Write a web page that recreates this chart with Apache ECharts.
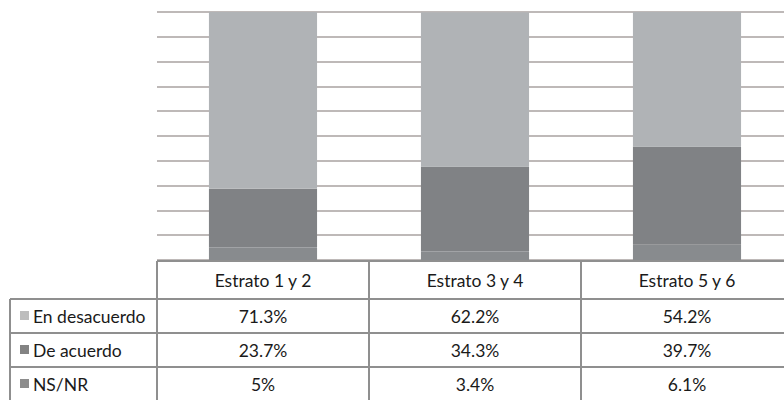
<!DOCTYPE html>
<html><head><meta charset="utf-8">
<script src="https://cdn.jsdelivr.net/npm/echarts@6/dist/echarts.min.js"></script>
<style>html,body{margin:0;padding:0;background:#fff;overflow:hidden;width:784px;height:400px}#c{width:800px;height:400px}</style>
</head><body><div id="c"></div>
<script>
const categories = ['Estrato 1 y 2', 'Estrato 3 y 4', 'Estrato 5 y 6'];
const seriesNames = ['En desacuerdo', 'De acuerdo', 'NS/NR'];
const enDesacuerdo = [71.3, 62.2, 54.2];
const deAcuerdo = [23.7, 34.3, 39.7];
const nsnr = [5, 3.4, 6.1];
const yTicks = [0, 10, 20, 30, 40, 50, 60, 70, 80, 90, 100];

const colors = {'En desacuerdo': '#b0b3b6', 'De acuerdo': '#808285', 'NS/NR': '#888b8e'};
const legendColors = {'En desacuerdo': '#bdbdbd', 'De acuerdo': '#838383', 'NS/NR': '#8c8c8c'};
const seriesData = {'En desacuerdo': enDesacuerdo, 'De acuerdo': deAcuerdo, 'NS/NR': nsnr};

const G = {left: 157, top: 12, width: 636, height: 248};
const FONT = 'Lato, "Open Sans", sans-serif';
const FS = '17.5px ';
const TXT = '#1a1a1a';
const chart = echarts.init(document.getElementById('c'), null, {renderer: 'svg'});

const stackOrder = ['NS/NR', 'De acuerdo', 'En desacuerdo'];
chart.setOption({
  animation: false,
  backgroundColor: '#ffffff',
  grid: G,
  xAxis: {type: 'category', data: categories, axisLine: {show: false}, axisTick: {show: false}, axisLabel: {show: false}},
  yAxis: {type: 'value', min: yTicks[0], max: yTicks[yTicks.length - 1], interval: yTicks[1] - yTicks[0],
    axisLabel: {show: false}, axisLine: {show: false}, axisTick: {show: false},
    splitLine: {lineStyle: {color: '#a8a2a1', width: 1.6}}},
  series: stackOrder.map(n => ({
    name: n, type: 'bar', stack: 'total', data: seriesData[n], barWidth: '51%',
    itemStyle: {color: colors[n]}
  }))
});

// data table
const lineStyle = {stroke: '#8f8f8f', lineWidth: 2};
const g = [];
const bottom = G.top + G.height + 1;
const headerH = 38, rowH = 34;
const colW = G.width / categories.length;
const tableLeft = 10;
const right = G.left + G.width;
const rowsY = [bottom, bottom + headerH];
for (let i = 0; i < seriesNames.length; i++) rowsY.push(bottom + headerH + rowH * (i + 1));
g.push({type: 'line', shape: {x1: G.left, y1: bottom, x2: right, y2: bottom}, style: lineStyle});
for (let i = 1; i < rowsY.length; i++) g.push({type: 'line', shape: {x1: tableLeft, y1: rowsY[i], x2: right, y2: rowsY[i]}, style: lineStyle});
g.push({type: 'line', shape: {x1: tableLeft, y1: rowsY[1], x2: tableLeft, y2: rowsY[rowsY.length - 1]}, style: lineStyle});
for (let c = 0; c <= categories.length; c++) {
  const x = G.left + c * colW;
  g.push({type: 'line', shape: {x1: x, y1: bottom, x2: x, y2: rowsY[rowsY.length - 1]}, style: lineStyle});
}
categories.forEach((cat, c) => {
  g.push({type: 'text', x: G.left + (c + 0.5) * colW, y: bottom + headerH / 2,
    style: {text: cat, fill: TXT, font: FS + FONT, align: 'center', verticalAlign: 'middle'}});
});
seriesNames.forEach((n, r) => {
  const cy = rowsY[1] + rowH * (r + 0.5);
  g.push({type: 'rect', shape: {x: 20, y: cy - 5, width: 9, height: 9}, style: {fill: legendColors[n]}});
  g.push({type: 'text', x: 33, y: cy, style: {text: n, fill: TXT, font: FS + FONT, align: 'left', verticalAlign: 'middle'}});
  seriesData[n].forEach((v, c) => {
    g.push({type: 'text', x: G.left + (c + 0.5) * colW, y: cy,
      style: {text: v + '%', fill: TXT, font: FS + FONT, align: 'center', verticalAlign: 'middle'}});
  });
});
chart.setOption({graphic: {elements: g}});
</script></body></html>
